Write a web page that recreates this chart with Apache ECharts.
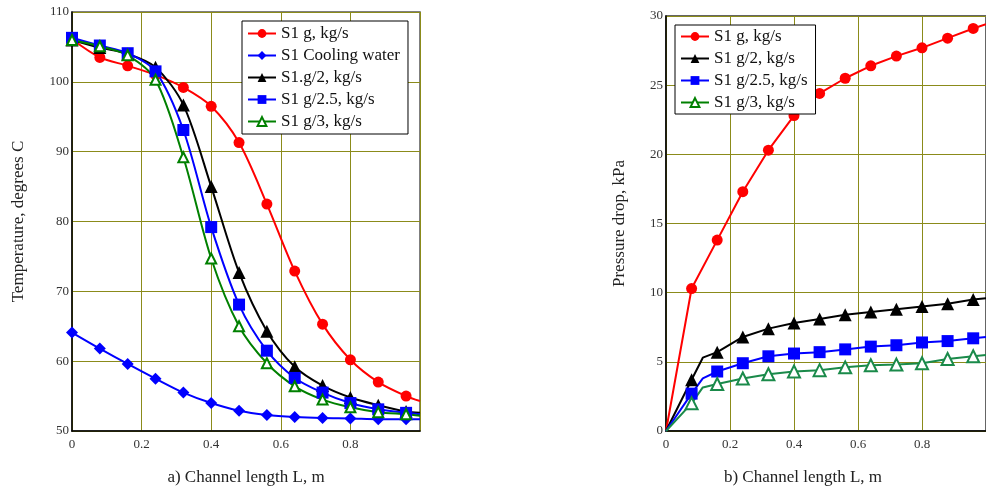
<!DOCTYPE html>
<html>
<head>
<meta charset="utf-8">
<script src="https://cdn.jsdelivr.net/npm/echarts@6/dist/echarts.min.js"></script>
<style>
  html, body { margin: 0; padding: 0; background: #fff; }
  #chart { width: 986px; height: 491px; }
</style>
</head>
<body>
<div id="chart"></div>
<script>
// channel length positions of the markers, m
const lengthL = [0, 0.08, 0.16, 0.24, 0.32, 0.4, 0.48, 0.56, 0.64, 0.72, 0.8, 0.88, 0.96];
const lengthEnd = 1.0;
const lengthKink = 0.115; // bend of the pressure curves (no marker)

// a) temperature, degrees C
const tempG     = [106.1, 103.5, 102.3, 101.0, 99.2, 96.5, 91.3, 82.5, 72.9, 65.3, 60.2, 57.0, 55.0];
const tempWater = [64.1, 61.8, 59.6, 57.5, 55.5, 54.0, 52.9, 52.3, 52.0, 51.85, 51.8, 51.7, 51.7];
const tempG2    = [106.0, 104.9, 104.0, 102.1, 96.7, 85.0, 72.7, 64.3, 59.2, 56.5, 54.8, 53.7, 52.8];
const tempG25   = [106.3, 105.2, 104.1, 101.5, 93.1, 79.2, 68.1, 61.5, 57.6, 55.5, 54.0, 53.1, 52.6];
const tempG3    = [106.0, 105.1, 103.8, 100.3, 89.2, 74.7, 65.0, 59.7, 56.4, 54.5, 53.4, 52.7, 52.4];
const tempEnd   = [54.3, 51.7, 52.6, 52.4, 52.2];

// b) pressure drop, kPa
const dpG   = [0, 10.3, 13.8, 17.3, 20.3, 22.8, 24.4, 25.5, 26.4, 27.1, 27.7, 28.4, 29.1];
const dpG2  = [0, 3.7, 5.7, 6.8, 7.4, 7.8, 8.1, 8.4, 8.6, 8.8, 9.0, 9.2, 9.5];
const dpG25 = [0, 2.7, 4.3, 4.9, 5.4, 5.6, 5.7, 5.9, 6.1, 6.2, 6.4, 6.5, 6.7];
const dpG3  = [0, 2.0, 3.4, 3.8, 4.1, 4.3, 4.4, 4.6, 4.75, 4.8, 4.9, 5.2, 5.4];
const dpKink = [null, 5.3, 3.8, 3.15];
const dpEnd  = [29.4, 9.6, 6.8, 5.5];

const namesA = ['S1 g, kg/s', 'S1 Cooling water', 'S1.g/2, kg/s', 'S1 g/2.5, kg/s', 'S1 g/3, kg/s'];
const namesB = ['S1 g, kg/s', 'S1 g/2, kg/s', 'S1 g/2.5, kg/s', 'S1 g/3, kg/s'];

const FONT = '"Liberation Serif", "Times New Roman", serif';

// marker points, plus optional bend and end point drawn without symbol
function pts(vals, kink, end, hideFirst) {
  const out = [];
  vals.forEach((v, i) => {
    if (i === 0 && hideFirst) out.push({ value: [lengthL[i], v], symbol: 'none' });
    else out.push([lengthL[i], v]);
    if (kink != null && i === 1) out.push({ value: [lengthKink, kink], symbol: 'none' });
  });
  out.push({ value: [lengthEnd, end], symbol: 'none' });
  return out;
}

const gridLine = { show: true, lineStyle: { color: '#8b8b1a', width: 1 } };
const axLabel = { color: '#333', fontFamily: FONT, fontSize: 13, showMaxLabel: false, margin: 7 };
const nameStyle = { color: '#222', fontFamily: FONT, fontSize: 17 };

function xAx(gi, name, pad) {
  return {
    type: 'value', gridIndex: gi, min: 0, max: 1, interval: 0.2,
    name: name, nameLocation: 'middle', nameGap: 38,
    nameTextStyle: Object.assign({ padding: pad }, nameStyle),
    axisLine: { lineStyle: { color: '#000', width: 1.5 } },
    axisTick: { show: false },
    axisLabel: axLabel,
    splitLine: gridLine
  };
}
function yAx(gi, min, max, step, name, gap) {
  return {
    type: 'value', gridIndex: gi, min: min, max: max, interval: step,
    name: name, nameLocation: 'middle', nameGap: gap,
    nameTextStyle: nameStyle,
    axisLine: { show: true, lineStyle: { color: '#000', width: 1.5 } },
    axisTick: { show: false },
    axisLabel: Object.assign({}, axLabel, { showMaxLabel: true, margin: 3 }),
    splitLine: gridLine
  };
}

function line(name, gi, data, color, symbol, size, smooth) {
  return {
    name: name, type: 'line', xAxisIndex: gi, yAxisIndex: gi,
    data: data, smooth: smooth, symbol: symbol, symbolSize: size,
    showAllSymbol: true, clip: true,
    lineStyle: { color: color, width: 2 },
    itemStyle: { color: color, borderColor: color, borderWidth: symbol === 'emptyTriangle' ? 1.2 : 0 },
    emphasis: { disabled: true }
  };
}

const legendBase = {
  orient: 'vertical',
  backgroundColor: '#fff',
  borderColor: '#000',
  borderWidth: 1,
  borderRadius: 0,
  itemWidth: 28,
  itemHeight: 11,
  itemGap: 5,
  textStyle: { color: '#111', fontFamily: FONT, fontSize: 17 }
};

const chart = echarts.init(document.getElementById('chart'), null, { renderer: 'canvas' });
chart.setOption({
  animation: false,
  grid: [
    { left: 72, top: 12, width: 348, height: 422, show: true, borderColor: '#555', borderWidth: 1.5 },
    { left: 666, top: 16, width: 324, height: 418, show: true, borderColor: '#333', borderWidth: 1.5 }
  ],
  xAxis: [
    xAx(0, 'a) Channel length L, m', [0, 0, 0, 0]),
    xAx(1, 'b) Channel length L, m', [0, 46, 0, 0])
  ],
  yAxis: [
    yAx(0, 50, 110, 10, 'Temperature, degrees C', 45),
    yAx(1, 0, 30, 5, 'Pressure drop, kPa', 38)
  ],
  legend: [
    Object.assign({ left: 242, top: 21, padding: [4, 8, 4, 5], data: namesA }, legendBase),
    Object.assign({ left: 675, top: 25, padding: [3, 8, 3, 5], data: namesB }, legendBase)
  ],
  series: [
    line(namesA[0], 0, pts(tempG, null, tempEnd[0]), '#ff0000', 'circle', 11, 0.3),
    line(namesA[1], 0, pts(tempWater, null, tempEnd[1]), '#0000ff', 'diamond', 12, 0.3),
    line(namesA[2], 0, pts(tempG2, null, tempEnd[2]), '#000000', 'triangle', 13, 0.3),
    line(namesA[3], 0, pts(tempG25, null, tempEnd[3]), '#0000ff', 'rect', 12, 0.3),
    line(namesA[4], 0, pts(tempG3, null, tempEnd[4]), '#008000', 'emptyTriangle', 10, 0.3),

    line(namesB[0], 1, pts(dpG, dpKink[0], dpEnd[0], true), '#ff0000', 'circle', 11, false),
    line(namesB[1], 1, pts(dpG2, dpKink[1], dpEnd[1], true), '#000000', 'triangle', 13, false),
    line(namesB[2], 1, pts(dpG25, dpKink[2], dpEnd[2], true), '#0000ff', 'rect', 12, false),
    line(namesB[3], 1, pts(dpG3, dpKink[3], dpEnd[3], true), '#1a8a4a', 'emptyTriangle', 12, false)
  ]
});
</script>
</body>
</html>
